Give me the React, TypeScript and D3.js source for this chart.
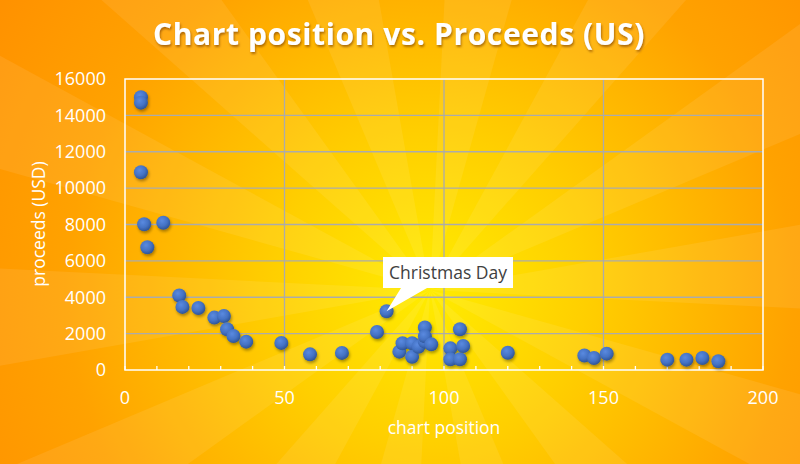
import React, { useEffect, useRef } from 'react';
import * as d3 from 'd3';

const chartPosition = [5, 5, 5, 6, 12, 7, 17, 18, 23, 28, 31, 32, 34, 38, 49, 58, 68, 79, 82, 86, 87, 90, 90, 92, 94, 94, 94, 96, 102, 102, 105, 105, 106, 120, 144, 147, 151, 170, 176, 181, 186];
const proceeds = [15000, 14700, 10870, 8010, 8100, 6750, 4100, 3470, 3410, 2880, 2970, 2240, 1870, 1560, 1490, 860, 940, 2090, 3230, 1010, 1470, 1470, 730, 1280, 1560, 2340, 1850, 1410, 1190, 590, 590, 2240, 1320, 950, 800, 660, 900, 570, 570, 660, 480];
const xTicks = [0, 50, 100, 150, 200];
const xMinorTicks = d3.range(0, 201, 10);
const yTicks = [0, 2000, 4000, 6000, 8000, 10000, 12000, 14000, 16000];
const titleText = 'Chart position vs. Proceeds (US)';
const xLabel = 'chart position';
const yLabel = 'proceeds (USD)';
const annotationText = 'Christmas Day';
const annotationIndex = 18;

const FONT = "'Open Sans', 'Noto Sans', sans-serif";

export default function App() {
  const ref = useRef<SVGSVGElement>(null);
  useEffect(() => {
    document.body.style.margin = '0';
    const W = 800, H = 464;
    const m = { left: 125, right: 763, top: 79, bottom: 370 };
    const svg = d3.select(ref.current);
    svg.selectAll('*').remove();
    const defs = svg.append('defs');

    const bg = defs.append('radialGradient').attr('id', 'bg').attr('gradientUnits', 'userSpaceOnUse')
      .attr('cx', 430).attr('cy', 290).attr('r', 520);
    bg.append('stop').attr('offset', 0).attr('stop-color', '#FFEC00');
    bg.append('stop').attr('offset', 0.3).attr('stop-color', '#FFCF00');
    bg.append('stop').attr('offset', 0.7).attr('stop-color', '#FFA200');
    bg.append('stop').attr('offset', 1).attr('stop-color', '#FF9100');

    const mg = defs.append('radialGradient').attr('id', 'marker').attr('cx', '40%').attr('cy', '35%').attr('r', '65%');
    mg.append('stop').attr('offset', 0).attr('stop-color', '#5A8AE0');
    mg.append('stop').attr('offset', 0.6).attr('stop-color', '#4472C4');
    mg.append('stop').attr('offset', 1).attr('stop-color', '#2F5597');

    const sh = defs.append('filter').attr('id', 'shadow').attr('x', '-50%').attr('y', '-50%').attr('width', '200%').attr('height', '200%');
    sh.append('feDropShadow').attr('dx', 1).attr('dy', 2).attr('stdDeviation', 1.5).attr('flood-color', '#000').attr('flood-opacity', 0.35);
    const tsh = defs.append('filter').attr('id', 'tshadow').attr('x', '-10%').attr('y', '-30%').attr('width', '120%').attr('height', '160%');
    tsh.append('feDropShadow').attr('dx', 1).attr('dy', 2).attr('stdDeviation', 1.2).attr('flood-color', '#7a3a00').attr('flood-opacity', 0.6);

    svg.append('rect').attr('width', W).attr('height', H).attr('fill', 'url(#bg)');

    // sunburst rays
    const nRays = 28;
    const arc = d3.arc<any>().innerRadius(0).outerRadius(1000);
    const rays = svg.append('g').attr('transform', 'translate(430,290)');
    d3.range(nRays).forEach(i => {
      if (i % 2 === 0) {
        const a0 = (i / nRays) * Math.PI * 2 + 0.05;
        const a1 = ((i + 1) / nRays) * Math.PI * 2 + 0.05;
        rays.append('path').attr('d', arc({ startAngle: a0, endAngle: a1 }) as string)
          .attr('fill', '#ffffff').attr('opacity', 0.08);
      }
    });

    const x = d3.scaleLinear().domain([0, 200]).range([m.left, m.right]);
    const y = d3.scaleLinear().domain([0, 16000]).range([m.bottom, m.top]);

    // gridlines
    const grid = svg.append('g');
    grid.selectAll('line.h').data(yTicks.slice(1, -1)).join('line')
      .attr('x1', m.left).attr('x2', m.right).attr('y1', d => y(d)).attr('y2', d => y(d))
      .attr('stroke', '#ABABAB').attr('stroke-width', 1.3);
    grid.selectAll('line.v').data(xTicks.slice(1, -1)).join('line')
      .attr('y1', m.top).attr('y2', m.bottom).attr('x1', d => x(d)).attr('x2', d => x(d))
      .attr('stroke', '#ABABAB').attr('stroke-width', 1.3);

    // plot border
    svg.append('rect').attr('x', m.left).attr('y', m.top).attr('width', m.right - m.left).attr('height', m.bottom - m.top)
      .attr('fill', 'none').attr('stroke', '#ffffff').attr('stroke-width', 1.5);
    // minor ticks
    svg.append('g').selectAll('line').data(xMinorTicks).join('line')
      .attr('x1', d => x(d)).attr('x2', d => x(d)).attr('y1', m.bottom - 4).attr('y2', m.bottom)
      .attr('stroke', '#fff').attr('stroke-width', 1.3);

    // tick labels
    svg.append('g').selectAll('text').data(yTicks).join('text')
      .attr('x', 106).attr('y', d => y(d)).attr('dy', '0.35em').attr('text-anchor', 'end')
      .attr('font-family', FONT).attr('font-size', 18).attr('fill', '#fff').text(d => String(d));
    svg.append('g').selectAll('text').data(xTicks).join('text')
      .attr('x', d => x(d)).attr('y', 398).attr('dy', '0.35em').attr('text-anchor', 'middle')
      .attr('font-family', FONT).attr('font-size', 18).attr('fill', '#fff').text(d => String(d));

    // axis titles
    svg.append('text').attr('x', 444).attr('y', 428).attr('dy', '0.35em').attr('text-anchor', 'middle')
      .attr('font-family', FONT).attr('font-size', 17.5).attr('fill', '#fff').text(xLabel);
    svg.append('text').attr('transform', 'translate(39,224) rotate(-90)').attr('dy', '0.35em').attr('text-anchor', 'middle')
      .attr('font-family', FONT).attr('font-size', 17.5).attr('fill', '#fff').text(yLabel);

    // title
    svg.append('text').attr('x', 399).attr('y', 45).attr('text-anchor', 'middle')
      .attr('font-family', FONT).attr('font-weight', 700).attr('font-size', 30).attr('letter-spacing', 0.6)
      .attr('fill', '#fff').attr('filter', 'url(#tshadow)').text(titleText);

    // points
    const data = chartPosition.map((c, i) => ({ c, p: proceeds[i] }));
    svg.append('g').attr('filter', 'url(#shadow)').selectAll('circle').data(data).join('circle')
      .attr('cx', d => x(d.c)).attr('cy', d => y(d.p)).attr('r', 7)
      .attr('fill', 'url(#marker)');

    // annotation callout
    const ax = x(chartPosition[annotationIndex]);
    const ay = y(proceeds[annotationIndex]);
    const bx0 = 383, bx1 = 513, by0 = 257, by1 = 288;
    const callout = svg.append('g');
    callout.append('path')
      .attr('d', `M${bx0},${by0}H${bx1}V${by1}H${bx0 + 44}L${ax},${ay}L${bx0 + 18},${by1}H${bx0}Z`)
      .attr('fill', '#ffffff');
    callout.append('text').attr('x', (bx0 + bx1) / 2).attr('y', (by0 + by1) / 2).attr('dy', '0.35em')
      .attr('text-anchor', 'middle').attr('font-family', FONT).attr('font-size', 17.5).attr('fill', '#404040')
      .text(annotationText);
  }, []);
  return <svg ref={ref} width={800} height={464} style={{ display: 'block' }} />;
}
